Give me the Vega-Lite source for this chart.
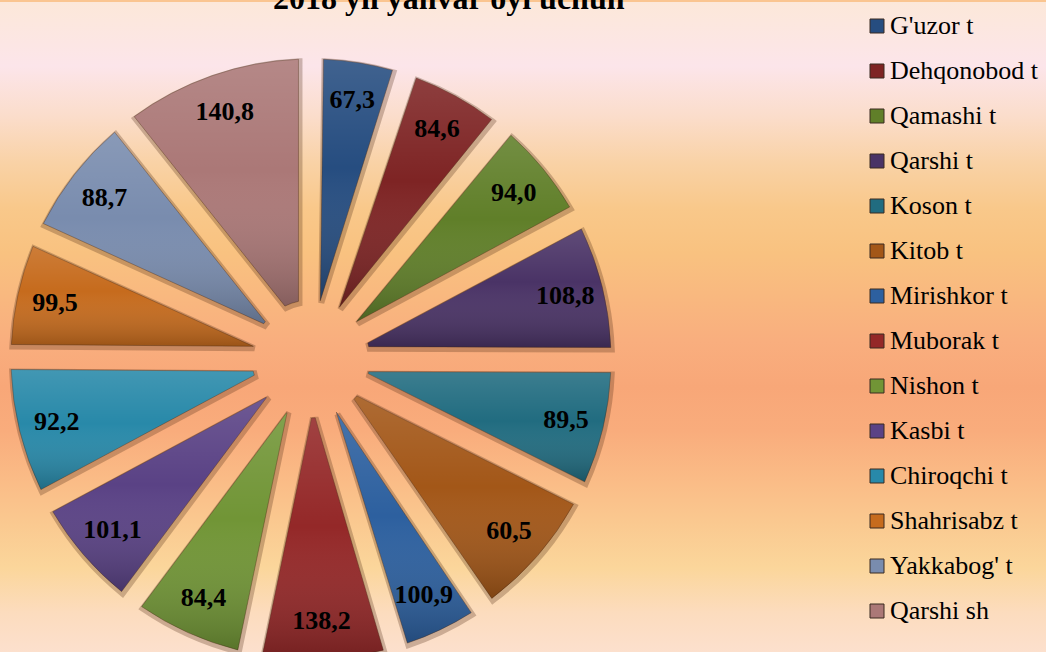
{
  "$schema": "https://vega.github.io/schema/vega-lite/v6.json",
  "padding": {"top": -17, "left": 0, "right": 0, "bottom": 0},
  "background": "#FAC590",
  "bounds": "flush",
  "title": {
    "text": "2018 yil yanvar oyi uchun",
    "font": "Liberation Serif",
    "fontSize": 32,
    "fontWeight": "bold",
    "color": "#000000",
    "anchor": "start",
    "frame": "group",
    "baseline": "alphabetic",
    "offset": 0,
    "dx": 273,
    "dy": 39
  },
  "spacing": 0,
  "datasets": {
    "bg": [{"panel": "background"}],
    "slices": [
      {"name": "G'uzor t", "value": 67.3, "share": 5.03, "idx": 1},
      {"name": "Dehqonobod t", "value": 84.6, "share": 5.89, "idx": 2},
      {"name": "Qamashi t", "value": 94.0, "share": 6.25, "idx": 3},
      {"name": "Qarshi t", "value": 108.8, "share": 7.83, "idx": 4},
      {"name": "Koson t", "value": 89.5, "share": 7.31, "idx": 5},
      {"name": "Kitob t", "value": 60.5, "share": 7.97, "idx": 6},
      {"name": "Mirishkor t", "value": 100.9, "share": 5.08, "idx": 7},
      {"name": "Muborak t", "value": 138.2, "share": 7.78, "idx": 8},
      {"name": "Nishon t", "value": 84.4, "share": 6.94, "idx": 9},
      {"name": "Kasbi t", "value": 101.1, "share": 6.94, "idx": 10},
      {"name": "Chiroqchi t", "value": 92.2, "share": 7.92, "idx": 11},
      {"name": "Shahrisabz t", "value": 99.5, "share": 6.67, "idx": 12},
      {"name": "Yakkabog' t", "value": 88.7, "share": 7.5, "idx": 13},
      {"name": "Qarshi sh", "value": 140.8, "share": 10.67, "idx": 14}
    ]
  },
  "hconcat": [
    {
      "width": 622,
      "height": 714,
      "layer": [
        {
          "data": {"name": "bg"},
          "mark": {
            "type": "rect",
            "fill": {
              "gradient": "linear",
              "x1": 0, "y1": 0, "x2": 0, "y2": 1,
              "stops": [
                {"offset": 0, "color": "#FCE8D9"},
                {"offset": 0.09, "color": "#FCE5EA"},
                {"offset": 0.16, "color": "#FBDDCB"},
                {"offset": 0.225, "color": "#F9D2A6"},
                {"offset": 0.29, "color": "#F9C88A"},
                {"offset": 0.35, "color": "#F9C280"},
                {"offset": 0.476, "color": "#F9AE7E"},
                {"offset": 0.54, "color": "#F8A778"},
                {"offset": 0.6, "color": "#F9AC7C"},
                {"offset": 0.667, "color": "#FABB86"},
                {"offset": 0.73, "color": "#FAC990"},
                {"offset": 0.793, "color": "#FBD69B"},
                {"offset": 0.856, "color": "#FCDCBE"},
                {"offset": 0.913, "color": "#FCE0CE"},
                {"offset": 1, "color": "#FDE6DA"}
              ]
            }
          }
        },
        {
          "data": {"name": "slices"},
          "mark": {"type": "arc", "innerRadius": 59, "outerRadius": 300, "padAngle": 0.082, "fill": null, "stroke": "#4a2812", "strokeWidth": 6, "strokeOpacity": 0.28, "xOffset": 1, "yOffset": 2},
          "encoding": {
            "theta": {"field": "share", "type": "quantitative", "stack": true},
            "order": {"field": "idx", "type": "quantitative"}
          }
        },
        {
          "data": {"name": "slices"},
          "mark": {"type": "arc", "innerRadius": 59, "outerRadius": 300, "padAngle": 0.082, "stroke": "#4a2a14", "strokeWidth": 1, "strokeOpacity": 0.4},
          "encoding": {
            "theta": {"field": "share", "type": "quantitative", "stack": true},
            "order": {"field": "idx", "type": "quantitative"},
            "color": {
              "field": "name",
              "type": "nominal",
              "sort": null,
              "scale": {
                "domain": ["G'uzor t", "Dehqonobod t", "Qamashi t", "Qarshi t", "Koson t", "Kitob t", "Mirishkor t", "Muborak t", "Nishon t", "Kasbi t", "Chiroqchi t", "Shahrisabz t", "Yakkabog' t", "Qarshi sh"],
                "range": ["#264D80", "#7E2424", "#607F29", "#4A3366", "#216C80", "#A35718", "#2D609F", "#942828", "#719536", "#5A4285", "#2889A9", "#C66B1D", "#798CAE", "#AB7877"]
              },
              "legend": {
                "orient": "none",
                "legendX": 864,
                "legendY": 11,
                "title": null,
                "padding": 0,
                "symbolType": "square",
                "symbolSize": 196,
                "symbolStrokeColor": "#3a2a20",
                "symbolStrokeWidth": 1,
                "symbolOpacity": 1,
                "labelFont": "Liberation Serif",
                "labelFontSize": 26,
                "labelColor": "#000000",
                "labelOffset": 0,
                "labelLimit": 300,
                "rowPadding": 19
              }
            }
          }
        },
        {
          "data": {"name": "slices"},
          "mark": {
            "type": "arc",
            "innerRadius": 59,
            "outerRadius": 300,
            "padAngle": 0.082,
            "fill": {
              "gradient": "linear",
              "x1": 0, "y1": 0, "x2": 0, "y2": 1,
              "stops": [
                {"offset": 0, "color": "rgba(255,255,255,0.12)"},
                {"offset": 0.45, "color": "rgba(255,255,255,0)"},
                {"offset": 1, "color": "rgba(0,0,0,0.22)"}
              ]
            }
          },
          "encoding": {
            "theta": {"field": "share", "type": "quantitative", "stack": true},
            "order": {"field": "idx", "type": "quantitative"}
          }
        },
        {
          "data": {"name": "slices"},
          "mark": {"type": "text", "radius": 262, "font": "Liberation Serif", "fontSize": 26, "fontWeight": "bold", "fill": "#000000"},
          "encoding": {
            "theta": {"field": "share", "type": "quantitative", "stack": true},
            "order": {"field": "idx", "type": "quantitative"},
            "text": {"field": "value", "type": "quantitative", "format": ".1f"}
          }
        }
      ]
    },
    {
      "width": 424,
      "height": 714,
      "data": {"name": "bg"},
      "mark": {
        "type": "rect",
        "fill": {
          "gradient": "linear",
          "x1": 0, "y1": 0, "x2": 0, "y2": 1,
          "stops": [
            {"offset": 0, "color": "#FCE8D9"},
            {"offset": 0.09, "color": "#FCE5EA"},
            {"offset": 0.16, "color": "#FBDDCB"},
            {"offset": 0.225, "color": "#F9D2A6"},
            {"offset": 0.29, "color": "#F9C88A"},
            {"offset": 0.35, "color": "#F9C280"},
            {"offset": 0.476, "color": "#F9AE7E"},
            {"offset": 0.54, "color": "#F8A778"},
            {"offset": 0.6, "color": "#F9AC7C"},
            {"offset": 0.667, "color": "#FABB86"},
            {"offset": 0.73, "color": "#FAC990"},
            {"offset": 0.793, "color": "#FBD69B"},
            {"offset": 0.856, "color": "#FCDCBE"},
            {"offset": 0.913, "color": "#FCE0CE"},
            {"offset": 1, "color": "#FDE6DA"}
          ]
        }
      }
    }
  ],
  "config": {
    "locale": {"number": {"decimal": ",", "thousands": " ", "grouping": [3], "currency": ["", ""]}},
    "view": {"stroke": null},
    "legend": {"labelFont": "Liberation Serif", "labelFontSize": 26, "labelColor": "#000000"}
  }
}
